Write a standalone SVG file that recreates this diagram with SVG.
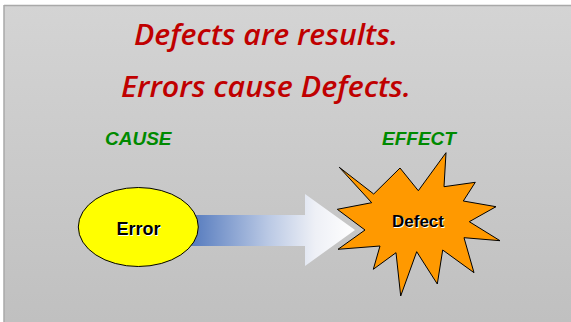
<svg xmlns="http://www.w3.org/2000/svg" width="571" height="322" viewBox="0 0 571 322">
  <defs>
    <linearGradient id="panelFill" x1="0" y1="0" x2="0" y2="1">
      <stop offset="0" stop-color="#d4d4d4"/>
      <stop offset="1" stop-color="#c0c0c0"/>
    </linearGradient>
    <linearGradient id="arrowFill" x1="196" y1="0" x2="355" y2="0" gradientUnits="userSpaceOnUse">
      <stop offset="0" stop-color="#5b7fc0"/>
      <stop offset="0.45" stop-color="#b9c8e4"/>
      <stop offset="0.75" stop-color="#eef0f6"/>
      <stop offset="1" stop-color="#ffffff"/>
    </linearGradient>
    <style>
      .title { font-family: "Open Sans", "DejaVu Sans", sans-serif; font-style: italic; font-weight: 600; font-size: 28px; fill: #c00000; }
      .tag { font-family: "Liberation Sans", Arial, sans-serif; font-style: italic; font-weight: 700; font-size: 19px; fill: #008a00; }
      .label { font-family: "Liberation Sans", Arial, sans-serif; font-weight: 700; text-anchor: middle; fill: #000000; }
      .glow { fill: #ffffff; }
      .outline { stroke: #000000; stroke-width: 1; stroke-linejoin: miter; }
    </style>
  </defs>

  <!-- page and slide panel -->
  <rect x="0" y="0" width="571" height="322" fill="#ffffff"/>
  <rect x="4" y="5" width="567" height="317" fill="url(#panelFill)"/>
  <line x1="4" y1="5.5" x2="571" y2="5.5" stroke="#a9a9a9" stroke-width="1.5"/>
  <line x1="4" y1="5" x2="4" y2="322" stroke="#a9a9a9" stroke-width="1.5"/>

  <!-- headings -->
  <text class="title" x="134" y="45" textLength="264" lengthAdjust="spacingAndGlyphs">Defects are results.</text>
  <text class="title" x="121" y="97" textLength="290" lengthAdjust="spacingAndGlyphs">Errors cause Defects.</text>

  <text class="tag" x="105" y="145">CAUSE</text>
  <text class="tag" x="382" y="145">EFFECT</text>

  <!-- connectors -->
  <g id="connectors">
    <polygon points="190,215 305,215 305,194 355,230 305,266 305,246 190,246" fill="url(#arrowFill)"/>
  </g>

  <!-- cause node -->
  <g id="error">
    <ellipse class="outline" cx="138.3" cy="227" rx="60" ry="39.5" fill="#ffff00"/>
    <text class="label glow" x="139.5" y="235.5" font-size="18">Error</text>
    <text class="label" x="138.5" y="234.5" font-size="18">Error</text>
  </g>

  <!-- effect node -->
  <g id="defect">
    <polygon class="outline" fill="#ff9900" points="339.3,167.3 373.7,194 400,168 418.3,190.7 446,152.7 444,186.7 475.3,182.3 463.3,201 496,206.7 469.3,221.7 500,240.7 464,237.7 474,272.7 442.7,250 437.3,284 416.7,251.7 400.7,296 396,252.7 373.3,269.3 380,246 338,249.3 365,230 337.3,209.3 371.7,202.7"/>
    <text class="label glow" x="419" y="227.5" font-size="17">Defect</text>
    <text class="label" x="418" y="226.5" font-size="17">Defect</text>
  </g>
</svg>
